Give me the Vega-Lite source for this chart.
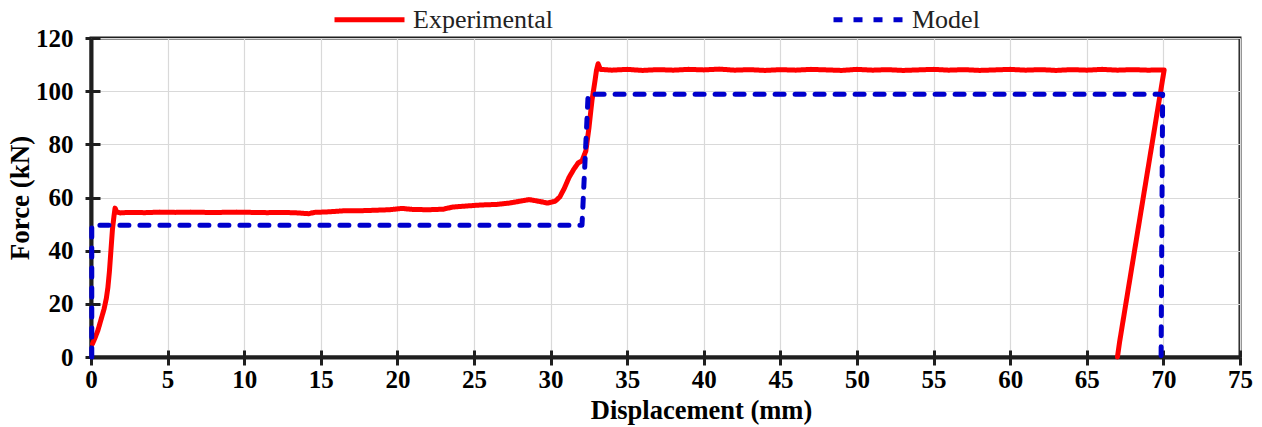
{
  "$schema": "https://vega.github.io/schema/vega-lite/v6.json",
  "width": 1149,
  "height": 319,
  "autosize": {"type": "none"},
  "padding": {"left": 91, "top": 38, "right": 22, "bottom": 70},
  "background": "white",
  "config": {
    "font": "Liberation Serif",
    "view": {"stroke": "#1f1f1f", "strokeWidth": 3},
    "legend": {
      "orient": "none",
      "legendX": 241,
      "legendY": -56,
      "direction": "horizontal",
      "labelFont": "Liberation Serif",
      "labelFontSize": 26,
      "labelColor": "#222222",
      "symbolType": "stroke",
      "symbolSize": 4900,
      "symbolStrokeWidth": 5,
      "columnPadding": 269,
      "labelOffset": 6,
      "padding": 0
    }
  },
  "data": {
    "values": [
      {"series": "Experimental", "i": 0, "d": 0.1, "f": 5},
      {"series": "Experimental", "i": 1, "d": 0.25, "f": 7},
      {"series": "Experimental", "i": 2, "d": 0.45, "f": 10},
      {"series": "Experimental", "i": 3, "d": 0.65, "f": 14},
      {"series": "Experimental", "i": 4, "d": 0.85, "f": 18},
      {"series": "Experimental", "i": 5, "d": 1.0, "f": 22},
      {"series": "Experimental", "i": 6, "d": 1.1, "f": 26},
      {"series": "Experimental", "i": 7, "d": 1.2, "f": 32},
      {"series": "Experimental", "i": 8, "d": 1.3, "f": 40},
      {"series": "Experimental", "i": 9, "d": 1.4, "f": 48},
      {"series": "Experimental", "i": 10, "d": 1.5, "f": 53},
      {"series": "Experimental", "i": 11, "d": 1.57, "f": 56},
      {"series": "Experimental", "i": 12, "d": 1.68, "f": 54.6},
      {"series": "Experimental", "i": 13, "d": 1.9, "f": 54.2},
      {"series": "Experimental", "i": 14, "d": 2.5, "f": 54.4},
      {"series": "Experimental", "i": 15, "d": 3.5, "f": 54.3},
      {"series": "Experimental", "i": 16, "d": 4.5, "f": 54.5},
      {"series": "Experimental", "i": 17, "d": 5.5, "f": 54.4},
      {"series": "Experimental", "i": 18, "d": 6.5, "f": 54.5},
      {"series": "Experimental", "i": 19, "d": 7.5, "f": 54.4},
      {"series": "Experimental", "i": 20, "d": 8.5, "f": 54.4},
      {"series": "Experimental", "i": 21, "d": 9.5, "f": 54.5},
      {"series": "Experimental", "i": 22, "d": 10.5, "f": 54.4},
      {"series": "Experimental", "i": 23, "d": 11.5, "f": 54.3},
      {"series": "Experimental", "i": 24, "d": 12.5, "f": 54.4},
      {"series": "Experimental", "i": 25, "d": 13.5, "f": 54.2},
      {"series": "Experimental", "i": 26, "d": 14.2, "f": 53.9},
      {"series": "Experimental", "i": 27, "d": 14.6, "f": 54.4},
      {"series": "Experimental", "i": 28, "d": 15.5, "f": 54.6},
      {"series": "Experimental", "i": 29, "d": 16.5, "f": 55.0},
      {"series": "Experimental", "i": 30, "d": 17.5, "f": 55.0},
      {"series": "Experimental", "i": 31, "d": 18.5, "f": 55.2},
      {"series": "Experimental", "i": 32, "d": 19.5, "f": 55.4},
      {"series": "Experimental", "i": 33, "d": 20.3, "f": 55.9},
      {"series": "Experimental", "i": 34, "d": 21.0, "f": 55.5},
      {"series": "Experimental", "i": 35, "d": 22.0, "f": 55.4},
      {"series": "Experimental", "i": 36, "d": 23.0, "f": 55.6},
      {"series": "Experimental", "i": 37, "d": 23.6, "f": 56.4},
      {"series": "Experimental", "i": 38, "d": 24.5, "f": 56.8},
      {"series": "Experimental", "i": 39, "d": 25.5, "f": 57.2},
      {"series": "Experimental", "i": 40, "d": 26.5, "f": 57.4},
      {"series": "Experimental", "i": 41, "d": 27.3, "f": 57.9},
      {"series": "Experimental", "i": 42, "d": 28.0, "f": 58.6},
      {"series": "Experimental", "i": 43, "d": 28.6, "f": 59.2},
      {"series": "Experimental", "i": 44, "d": 29.2, "f": 58.6},
      {"series": "Experimental", "i": 45, "d": 29.8, "f": 57.9},
      {"series": "Experimental", "i": 46, "d": 30.3, "f": 58.6},
      {"series": "Experimental", "i": 47, "d": 30.6, "f": 60.2},
      {"series": "Experimental", "i": 48, "d": 30.9, "f": 63.5},
      {"series": "Experimental", "i": 49, "d": 31.2, "f": 67.5},
      {"series": "Experimental", "i": 50, "d": 31.5, "f": 70.5},
      {"series": "Experimental", "i": 51, "d": 31.8, "f": 73.0},
      {"series": "Experimental", "i": 52, "d": 32.05, "f": 73.8},
      {"series": "Experimental", "i": 53, "d": 32.3, "f": 77.5},
      {"series": "Experimental", "i": 54, "d": 32.5, "f": 86},
      {"series": "Experimental", "i": 55, "d": 32.7, "f": 96.5},
      {"series": "Experimental", "i": 56, "d": 32.9, "f": 104},
      {"series": "Experimental", "i": 57, "d": 33.0, "f": 108},
      {"series": "Experimental", "i": 58, "d": 33.1, "f": 110.3},
      {"series": "Experimental", "i": 59, "d": 33.25, "f": 108.2},
      {"series": "Experimental", "i": 60, "d": 34, "f": 107.9},
      {"series": "Experimental", "i": 61, "d": 35, "f": 108.2},
      {"series": "Experimental", "i": 62, "d": 36, "f": 107.8},
      {"series": "Experimental", "i": 63, "d": 37, "f": 108.1},
      {"series": "Experimental", "i": 64, "d": 38, "f": 107.9},
      {"series": "Experimental", "i": 65, "d": 39, "f": 108.2},
      {"series": "Experimental", "i": 66, "d": 40, "f": 108.0},
      {"series": "Experimental", "i": 67, "d": 41, "f": 108.3},
      {"series": "Experimental", "i": 68, "d": 42, "f": 107.9},
      {"series": "Experimental", "i": 69, "d": 43, "f": 108.1},
      {"series": "Experimental", "i": 70, "d": 44, "f": 107.8},
      {"series": "Experimental", "i": 71, "d": 45, "f": 108.1},
      {"series": "Experimental", "i": 72, "d": 46, "f": 107.9},
      {"series": "Experimental", "i": 73, "d": 47, "f": 108.2},
      {"series": "Experimental", "i": 74, "d": 48, "f": 108.0},
      {"series": "Experimental", "i": 75, "d": 49, "f": 107.8},
      {"series": "Experimental", "i": 76, "d": 50, "f": 108.2},
      {"series": "Experimental", "i": 77, "d": 51, "f": 107.9},
      {"series": "Experimental", "i": 78, "d": 52, "f": 108.1},
      {"series": "Experimental", "i": 79, "d": 53, "f": 107.8},
      {"series": "Experimental", "i": 80, "d": 54, "f": 108.0},
      {"series": "Experimental", "i": 81, "d": 55, "f": 108.2},
      {"series": "Experimental", "i": 82, "d": 56, "f": 107.9},
      {"series": "Experimental", "i": 83, "d": 57, "f": 108.1},
      {"series": "Experimental", "i": 84, "d": 58, "f": 107.8},
      {"series": "Experimental", "i": 85, "d": 59, "f": 108.0},
      {"series": "Experimental", "i": 86, "d": 60, "f": 108.2},
      {"series": "Experimental", "i": 87, "d": 61, "f": 107.9},
      {"series": "Experimental", "i": 88, "d": 62, "f": 108.1},
      {"series": "Experimental", "i": 89, "d": 63, "f": 107.8},
      {"series": "Experimental", "i": 90, "d": 64, "f": 108.1},
      {"series": "Experimental", "i": 91, "d": 65, "f": 107.9},
      {"series": "Experimental", "i": 92, "d": 66, "f": 108.2},
      {"series": "Experimental", "i": 93, "d": 67, "f": 107.9},
      {"series": "Experimental", "i": 94, "d": 68, "f": 108.1},
      {"series": "Experimental", "i": 95, "d": 69, "f": 107.9},
      {"series": "Experimental", "i": 96, "d": 70.05, "f": 108.0},
      {"series": "Experimental", "i": 97, "d": 67.15, "f": 6},
      {"series": "Experimental", "i": 98, "d": 67.0, "f": 0},
      {"series": "Model", "i": 0, "d": 0.05, "f": 0},
      {"series": "Model", "i": 1, "d": 0.05, "f": 49.6},
      {"series": "Model", "i": 2, "d": 32.05, "f": 49.6},
      {"series": "Model", "i": 3, "d": 32.45, "f": 98.8},
      {"series": "Model", "i": 4, "d": 69.95, "f": 98.8},
      {"series": "Model", "i": 5, "d": 69.85, "f": 0}
    ]
  },
  "layer": [
    {
      "transform": [{"filter": "datum.series === 'Experimental'"}],
      "mark": {"type": "line", "strokeWidth": 5, "strokeJoin": "round", "strokeCap": "round"},
      "encoding": {
        "x": {
          "field": "d", "type": "quantitative",
          "scale": {"domain": [0, 75], "nice": false, "zero": false},
          "axis": {
            "title": "Displacement (mm)",
            "values": [0, 5, 10, 15, 20, 25, 30, 35, 40, 45, 50, 55, 60, 65, 70, 75],
            "grid": true, "gridColor": "#d9d9d9", "gridWidth": 1.2,
            "domainColor": "#1f1f1f", "domainWidth": 4,
            "tickColor": "#1f1f1f", "tickWidth": 3, "tickSize": 8,
            "labelFont": "Liberation Serif", "labelFontSize": 25, "labelFontWeight": "bold", "labelColor": "#000000",
            "labelPadding": 2, "labelFlush": false, "labelOverlap": false,
            "titleFont": "Liberation Serif", "titleFontSize": 26.5, "titleFontWeight": "bold", "titleColor": "#000000",
            "titlePadding": 5, "titleX": 610
          }
        },
        "y": {
          "field": "f", "type": "quantitative",
          "scale": {"domain": [0, 120], "nice": false},
          "axis": {
            "title": "Force (kN)",
            "values": [0, 20, 40, 60, 80, 100, 120],
            "grid": true, "gridColor": "#d9d9d9", "gridWidth": 1.2,
            "domainColor": "#1f1f1f", "domainWidth": 4,
            "tickColor": "#1f1f1f", "tickWidth": 3, "tickSize": 6,
            "labelFont": "Liberation Serif", "labelFontSize": 25, "labelFontWeight": "bold", "labelColor": "#000000",
            "labelPadding": 12, "labelFlush": false, "labelOverlap": false,
            "titleFont": "Liberation Serif", "titleFontSize": 27, "titleFontWeight": "bold", "titleColor": "#000000",
            "titlePadding": 1
          }
        },
        "color": {
          "field": "series", "type": "nominal",
          "scale": {"domain": ["Experimental", "Model"], "range": ["#ff0000", "#0000cc"]},
          "legend": {"title": null}
        },
        "strokeDash": {
          "field": "series", "type": "nominal",
          "scale": {"domain": ["Experimental", "Model"], "range": [[1, 0], [9, 11]]},
          "legend": {"title": null}
        },
        "order": {"field": "i", "type": "quantitative"}
      }
    },
    {
      "transform": [{"filter": "datum.series === 'Model'"}],
      "mark": {"type": "line", "strokeWidth": 5, "strokeJoin": "round", "strokeCap": "round"},
      "encoding": {
        "x": {
          "field": "d", "type": "quantitative",
          "axis": {
            "orient": "bottom", "title": null, "labels": false, "domain": false, "grid": false,
            "values": [0, 5, 10, 15, 20, 25, 30, 35, 40, 45, 50, 55, 60, 65, 70, 75],
            "tickColor": "#1f1f1f", "tickWidth": 3, "tickSize": -7
          }
        },
        "y": {
          "field": "f", "type": "quantitative",
          "axis": {
            "orient": "left", "title": null, "labels": false, "domain": false, "grid": false,
            "values": [0, 20, 40, 60, 80, 100, 120],
            "tickColor": "#1f1f1f", "tickWidth": 3, "tickSize": -9
          }
        },
        "color": {"field": "series", "type": "nominal", "legend": {"title": null}},
        "strokeDash": {"field": "series", "type": "nominal", "legend": {"title": null}},
        "order": {"field": "i", "type": "quantitative"}
      }
    }
  ],
  "resolve": {"axis": {"x": "independent", "y": "independent"}}
}
